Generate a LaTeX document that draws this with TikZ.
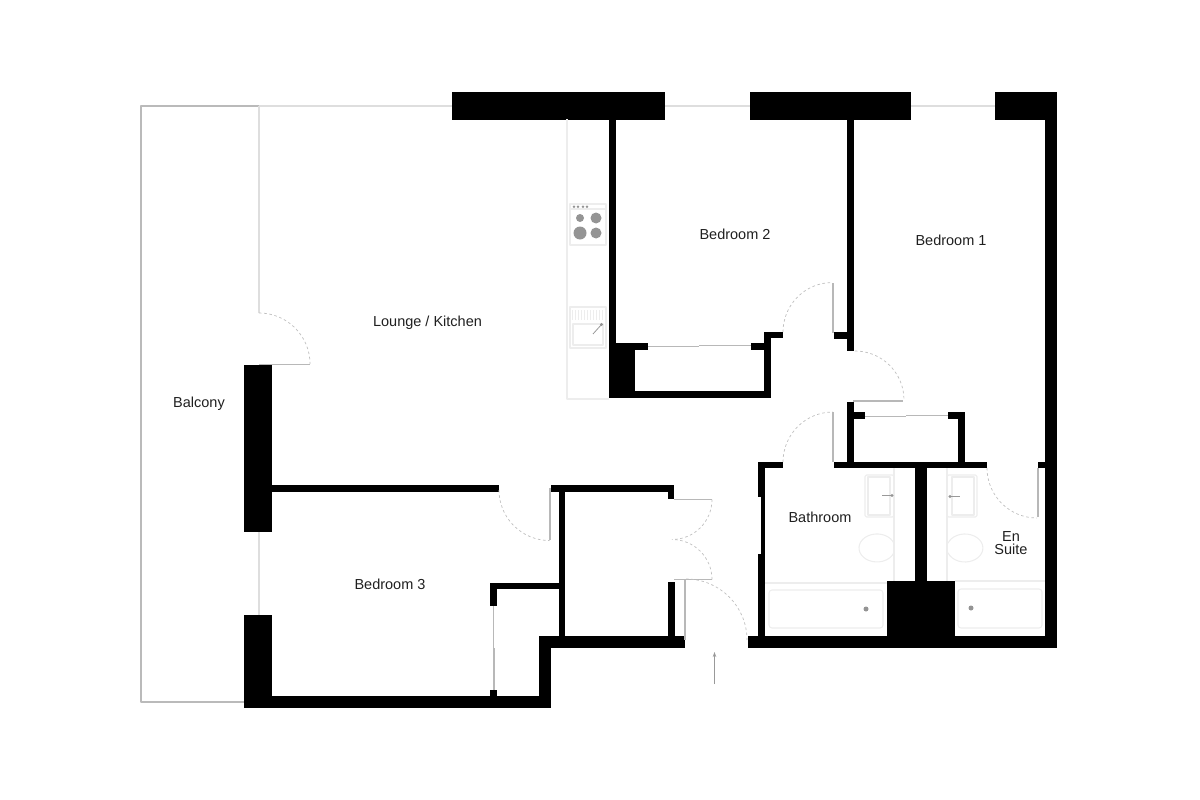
\documentclass[tikz,border=0pt]{standalone}
\usepackage{fontspec}
\usetikzlibrary{arrows.meta}
\setmainfont{Liberation Sans}
\tikzset{
  wall/.style={fill=black},
  roomlabel/.style={font=\fontsize{14.5}{16}\selectfont,align=center,text=black!88},
  glazing/.style={draw=black!13,line width=2pt},
  balconyedge/.style={draw=black!27,line width=2pt},
  leaf/.style={draw=black!28,line width=1.3pt},
  swing/.style={draw=black!25,line width=0.7pt,dash pattern=on 2.6pt off 2.6pt},
  fixture/.style={draw=black!7,line width=1.1pt},
  fixturedot/.style={fill=black!42},
  tapline/.style={draw=black!40,line width=0.8pt},
}
\begin{document}
\begin{tikzpicture}[line join=round,x=1pt,y=-1pt]
        \useasboundingbox (0,0) rectangle (1200,800);

        \draw[balconyedge] (244,702)-- (141,702)-- (141,105.5)-- (259,105.5);
        \draw[glazing] (259,105.5)-- (452,105.5);
        \draw[glazing] (665,105.5)-- (750,105.5);
        \draw[glazing] (911,105.5)-- (995,105.5);
        \draw[glazing] (258.5,105.5)-- (258.5,313);
        \draw[glazing] (258.5,532)-- (258.5,615);

        \fill[wall] (452,92) rectangle (665,120);
        \fill[wall] (750,92) rectangle (911,120);
        \fill[wall] (995,92) rectangle (1057,120);
        \fill[wall] (1045,119) rectangle (1057,648);
        \fill[wall] (748,636) rectangle (1057,648);
        \fill[wall] (244,365) rectangle (272,532);
        \fill[wall] (244,615) rectangle (272,708);
        \fill[wall] (244,696) rectangle (551,708);
        \fill[wall] (539,636) rectangle (551,708);
        \fill[wall] (539,636) rectangle (685,648);
        \fill[wall] (490,690) rectangle (497,696);
        \fill[wall] (272,485) rectangle (499,492);
        \fill[wall] (551,485) rectangle (674,492);
        \fill[wall] (668,485) rectangle (674,499);
        \fill[wall] (559,485) rectangle (565,636);
        \fill[wall] (490,583) rectangle (559,589);
        \fill[wall] (490,583) rectangle (497,606);
        \fill[wall] (668,582) rectangle (675,636);

        \fill[wall] (609,119) rectangle (616,343);
        \fill[wall] (609,343) rectangle (635,398);
        \fill[wall] (616,343) rectangle (648,350);
        \fill[wall] (609,391) rectangle (771,398);
        \fill[wall] (764,332) rectangle (771,398);
        \fill[wall] (764,332) rectangle (783,338);
        \fill[wall] (751,343) rectangle (764,350);

        \fill[wall] (847,119) rectangle (854,351);
        \fill[wall] (834,332) rectangle (847,339);
        \fill[wall] (847,402) rectangle (854,462);
        \fill[wall] (854,412) rectangle (865,419);
        \fill[wall] (948,412) rectangle (965,419);
        \fill[wall] (958,412) rectangle (965,462);
        \fill[wall] (834,462) rectangle (987,468);
        \fill[wall] (1038,462) rectangle (1045,468);

        \fill[wall] (758,462) rectangle (783,468);
        \fill[wall] (758,462) rectangle (765,497);
        \fill[wall] (761,497) rectangle (765,554);
        \fill[wall] (758,554) rectangle (765,636);
        \fill[wall] (915,468) rectangle (927,581);
        \fill[wall] (887,581) rectangle (955,636);

        \draw[leaf] (648,346.7)-- (699,346.7);
        \draw[leaf] (699,345.8)-- (751,345.8);
        \draw[leaf] (865,416.6)-- (906,416.6);
        \draw[leaf] (906,415.8)-- (948,415.8);
        \draw[leaf] (493.5,606)-- (493.5,648);
        \draw[leaf] (494,648)-- (494,690);

        \draw[leaf] (259,364.5)-- (310,364.5);
        \draw[swing] (259,313) arc[start angle=-90,end angle=0,radius=51];
        \draw[leaf] (833,283)-- (833,333);
        \draw[swing] (783,332) arc[start angle=180,end angle=270,radius=49.5];
        \draw[leaf] (853,401)-- (903,401);
        \draw[swing] (855,351) arc[start angle=-90,end angle=0,radius=49];
        \draw[leaf] (833,412)-- (833,462);
        \draw[swing] (783,462) arc[start angle=180,end angle=270,radius=50];
        \draw[leaf] (1038,468)-- (1038,517);
        \draw[swing] (987,468) arc[start angle=180,end angle=90,radius=50];
        \draw[leaf] (550,488)-- (550,540);
        \draw[swing] (499,490) arc[start angle=180,end angle=90,radius=50.5];
        \draw[leaf] (674,499.5)-- (712,499.5);
        \draw[swing] (712,499.5) arc[start angle=0,end angle=90,radius=40];
        \draw[leaf] (674,579.5)-- (712,579.5);
        \draw[swing] (712,579.5) arc[start angle=0,end angle=-90,radius=40];
        \draw[leaf] (685,579)-- (685,640);
        \draw[swing] (686,579) arc[start angle=-90,end angle=0,radius=61];

        \draw[fixture] (567,119)-- (567,399)-- (609,399);
        \draw[fixture] (570,204) rectangle (606,245);
        \draw[fixture] (570,209)-- (606,209);
        \fill[fixturedot] (574,206.7) circle (1.4);
        \fill[fixturedot] (578,206.7) circle (1.4);
        \fill[fixturedot] (583,206.7) circle (1.4);
        \fill[fixturedot] (587,206.7) circle (1.4);
        \fill[fixturedot] (580,218) circle (4);
        \fill[fixturedot] (596,218) circle (5.5);
        \fill[fixturedot] (580,233) circle (6.5);
        \fill[fixturedot] (596,233) circle (5.5);

        \draw[fixture] (570,307) rectangle (606,348);
        \draw[fixture] (573,324) rectangle (603,345);
        \draw[fixture] (572.5,310)-- (572.5,320);
        \draw[fixture] (575.5,310)-- (575.5,320);
        \draw[fixture] (578.5,310)-- (578.5,320);
        \draw[fixture] (581.5,310)-- (581.5,320);
        \draw[fixture] (584.5,310)-- (584.5,320);
        \draw[fixture] (587.5,310)-- (587.5,320);
        \draw[fixture] (590.5,310)-- (590.5,320);
        \draw[fixture] (593.5,310)-- (593.5,320);
        \draw[fixture] (596.5,310)-- (596.5,320);
        \draw[fixture] (599.5,310)-- (599.5,320);
        \draw[fixture] (602.5,310)-- (602.5,320);
        \draw[tapline] (593,334)-- (601.5,324.5);
        \fill[fixturedot] (601.5,324.5) circle (1.6);

        \draw[fixture] (894,468)-- (894,581);
        \draw[fixture,rounded corners=1.5pt] (865,475) rectangle (894,517);
        \draw[fixture] (868,477) rectangle (890,515);
        \draw[tapline] (882,495.5)-- (892,495.5);
        \fill[fixturedot] (892,495.5) circle (1.6);
        \draw[fixture] (894,543.4) arc[start angle=-19,end angle=-341,x radius=18,y radius=14];
        \draw[fixture] (765,583)-- (887,583);
        \draw[fixture,rounded corners=3pt] (769,590) rectangle (883,628);
        \fill[fixturedot] (866,609) circle (2.5);

        \draw[fixture] (947,468)-- (947,581);
        \draw[fixture,rounded corners=1.5pt] (947,475) rectangle (977,517);
        \draw[fixture] (952,477) rectangle (974,515);
        \draw[tapline] (950,496.5)-- (960,496.5);
        \fill[fixturedot] (950,496.5) circle (1.6);
        \draw[fixture] (948,543.2) arc[start angle=-160,end angle=160,x radius=18,y radius=14];
        \draw[fixture] (955,581)-- (1045,581);
        \draw[fixture,rounded corners=3pt] (958,589) rectangle (1042,628);
        \fill[fixturedot] (971,608) circle (2.5);

        \draw[tapline,-{Stealth[length=5pt,width=3.5pt]}] (714.5,684)-- (714.5,652);

        \node[roomlabel] (lounge) at (427.5,322.5) {Lounge / Kitchen};
        \node[roomlabel] (bedtwo) at (735,234) {Bedroom 2};
        \node[roomlabel] (bedone) at (951,240) {Bedroom 1};
        \node[roomlabel] (bedthree) at (390,584) {Bedroom 3};
        \node[roomlabel] (balcony) at (199,403.5) {Balcony};
        \node[roomlabel] (bathroom) at (820,517) {Bathroom};
        \node[roomlabel] (ensuite) at (1011,543) {En\\[-3pt]Suite};
      \end{tikzpicture}
\end{document}
